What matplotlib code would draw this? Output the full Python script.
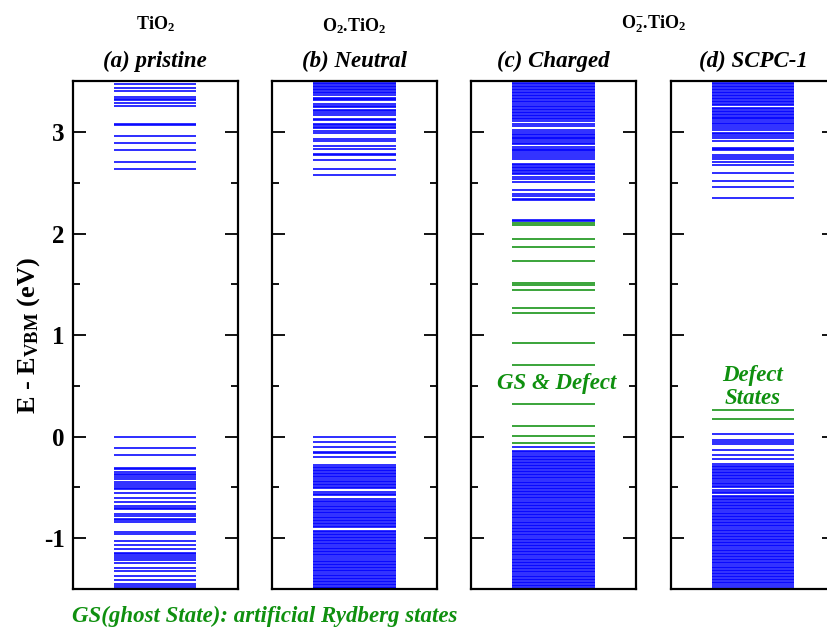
import matplotlib
matplotlib.use("Agg")
import matplotlib.pyplot as plt
from matplotlib.ticker import MultipleLocator

plt.rcParams["font.family"] = ["Liberation Serif", "DejaVu Serif"]
plt.rcParams["font.weight"] = "bold"
plt.rcParams["axes.unicode_minus"] = False
plt.rcParams["mathtext.fontset"] = "custom"
plt.rcParams["mathtext.rm"] = "Liberation Serif:bold"
plt.rcParams["mathtext.it"] = "Liberation Serif:bold:italic"
plt.rcParams["mathtext.bf"] = "Liberation Serif:bold"

BLUE = "#0000ff"
GREEN = "#0f900f"

# energy levels (eV, relative to VBM)
pristine_blue = [
    3.471, 3.429, 3.402, 3.350, 3.323, 3.314, 3.284, 3.255, 3.078, 3.072,
    2.957, 2.888, 2.819, 2.701, 2.635,
    0.0, -0.108, -0.177, -0.305, -0.321, -0.344, -0.364, -0.380, -0.400,
    -0.420, -0.443, -0.469, -0.485, -0.502, -0.518, -0.551, -0.600, -0.643,
    -0.685, -0.699, -0.715, -0.761, -0.777, -0.807, -0.823, -0.836, -0.935,
    -0.961, -1.023, -1.063, -1.102, -1.141, -1.158, -1.174, -1.191, -1.210,
    -1.246, -1.289, -1.322, -1.374, -1.414, -1.453, -1.470, -1.486,
]

neutral_blue = [
    3.487, 3.472, 3.457, 3.442, 3.427, 3.412, 3.397, 3.382, 3.367,
    3.336, 3.324, 3.311, 3.274, 3.261, 3.248, 3.222, 3.209, 3.192, 3.169,
    3.127, 3.114, 3.084, 3.071, 3.048, 3.035, 3.015, 2.992, 2.933, 2.914,
    2.864, 2.838, 2.786, 2.776, 2.727, 2.632, 2.579,
    0.0, -0.049, -0.098, -0.147, -0.161, -0.200,
    -0.280, -0.296, -0.312, -0.326, -0.341, -0.356, -0.372, -0.386, -0.401,
    -0.417, -0.432, -0.447, -0.462, -0.478, -0.493, -0.508, -0.545, -0.560,
    -0.575, -0.615, -0.630, -0.645, -0.665, -0.680, -0.695, -0.710, -0.725,
    -0.740, -0.755, -0.772, -0.787, -0.802, -0.818, -0.833, -0.848, -0.862,
    -0.878, -0.893, -0.925, -0.940, -0.955, -0.970, -0.985, -1.000, -1.015,
    -1.030, -1.046, -1.061, -1.076, -1.091, -1.106, -1.122, -1.137, -1.152,
    -1.167, -1.183, -1.205, -1.220, -1.235, -1.250, -1.266, -1.281, -1.296,
    -1.311, -1.326, -1.341, -1.357, -1.372, -1.387, -1.402, -1.418, -1.433,
    -1.448, -1.463, -1.478, -1.493,
]

charged_blue = [
    3.487, 3.472, 3.457, 3.442, 3.427, 3.412, 3.396, 3.381, 3.366, 3.351,
    3.336, 3.321, 3.306, 3.291, 3.276, 3.261, 3.246, 3.231, 3.216, 3.201,
    3.186, 3.171, 3.156, 3.141, 3.126, 3.107, 3.081, 3.058, 3.025, 2.999,
    2.984, 2.969, 2.955, 2.941, 2.927, 2.911, 2.896, 2.878, 2.852, 2.838,
    2.824, 2.810, 2.796, 2.770, 2.753, 2.730, 2.688, 2.673, 2.658, 2.643,
    2.628, 2.613, 2.598, 2.583, 2.557, 2.540, 2.511, 2.432, 2.386, 2.370,
    2.343, 2.333, 2.137, 2.121,
    -0.098, -0.140, -0.155, -0.170, -0.185, -0.200, -0.215, -0.230, -0.245,
    -0.260, -0.275, -0.290, -0.305, -0.321, -0.336, -0.350, -0.366, -0.381,
    -0.396, -0.411, -0.426, -0.441, -0.457, -0.472, -0.487, -0.502, -0.517,
    -0.532, -0.548, -0.563, -0.578, -0.593, -0.608, -0.623, -0.639, -0.654,
    -0.669, -0.684, -0.699, -0.714, -0.730, -0.745, -0.760, -0.775, -0.790,
    -0.805, -0.821, -0.836, -0.851, -0.866, -0.881, -0.896, -0.912, -0.927,
    -0.942, -0.957, -0.972, -0.987, -1.003, -1.018, -1.033, -1.048, -1.063,
    -1.078, -1.094, -1.109, -1.124, -1.139, -1.154, -1.169, -1.185, -1.200,
    -1.215, -1.230, -1.245, -1.260, -1.276, -1.291, -1.306, -1.321, -1.336,
    -1.351, -1.367, -1.382, -1.397, -1.412, -1.427, -1.442, -1.458, -1.473,
    -1.488,
]
charged_green = [
    2.104, 2.088, 1.944, 1.865, 1.731, 1.517, 1.498, 1.445, 1.265, 1.222,
    0.927, 0.705, 0.327, 0.101, 0.003, -0.066,
]

scpc_blue = [
    3.487, 3.472, 3.457, 3.442, 3.427, 3.412, 3.397, 3.382, 3.367, 3.352,
    3.337, 3.322, 3.307, 3.292, 3.277, 3.262, 3.240, 3.225, 3.210, 3.195,
    3.180, 3.165, 3.150, 3.135, 3.124, 3.107, 3.090, 3.075, 3.060, 3.041,
    3.016, 2.992, 2.978, 2.966, 2.943, 2.911, 2.845, 2.835, 2.819, 2.770,
    2.753, 2.730, 2.704, 2.671, 2.599, 2.517, 2.458, 2.353,
    0.026, -0.030, -0.049, -0.072, -0.131, -0.177, -0.220,
    -0.269, -0.284, -0.299, -0.314, -0.329, -0.344, -0.360, -0.375, -0.390,
    -0.405, -0.420, -0.436, -0.451, -0.466, -0.482, -0.498, -0.525, -0.540,
    -0.555, -0.580, -0.595, -0.610, -0.625, -0.641, -0.656, -0.671, -0.686,
    -0.701, -0.716, -0.732, -0.747, -0.762, -0.777, -0.792, -0.807, -0.823,
    -0.838, -0.853, -0.868, -0.883, -0.898, -0.914, -0.929, -0.944, -0.959,
    -0.974, -0.989, -1.005, -1.020, -1.035, -1.050, -1.065, -1.080, -1.096,
    -1.111, -1.126, -1.141, -1.156, -1.171, -1.187, -1.202, -1.217, -1.232,
    -1.247, -1.262, -1.278, -1.293, -1.308, -1.323, -1.338, -1.353, -1.369,
    -1.384, -1.399, -1.414, -1.429, -1.444, -1.460, -1.475,
]
scpc_green = [0.262, 0.174]

panel_titles = ["(a) pristine", "(b) Neutral", "(c) Charged", "(d) SCPC-1"]
panel_blue = [pristine_blue, neutral_blue, charged_blue, scpc_blue]
panel_green = [[], [], charged_green, scpc_green]

fig = plt.figure(figsize=(8.28, 6.3), dpi=100)

lefts = [0.088, 0.3285, 0.569, 0.810]
axes = []
for i, left in enumerate(lefts):
    ax = fig.add_axes([left, 0.065, 0.199, 0.806])
    ax.hlines(panel_blue[i], 0.25, 0.75, color=BLUE, lw=1.15)
    if panel_green[i]:
        ax.hlines(panel_green[i], 0.25, 0.75, color=GREEN, lw=1.15)
    ax.set_xlim(0, 1)
    ax.set_ylim(-1.5, 3.5)
    ax.set_xticks([])
    ax.yaxis.set_major_locator(MultipleLocator(1))
    ax.yaxis.set_minor_locator(MultipleLocator(0.5))
    ax.tick_params(axis="y", which="both", direction="in", left=True, right=True)
    ax.tick_params(axis="y", which="major", length=9.5, width=1.3, labelsize=18, pad=6)
    ax.tick_params(axis="y", which="minor", length=5, width=1.3)
    for sp in ax.spines.values():
        sp.set_linewidth(1.6)
    if i > 0:
        ax.set_yticklabels([])
    ax.set_title(panel_titles[i], fontsize=16.5, fontweight="bold", style="italic", pad=10)
    axes.append(ax)

axes[0].set_ylabel(r"E - E$_{\mathrm{VBM}}$ (eV)", fontsize=19, fontweight="bold", labelpad=1)

# system labels above the panels
fig.text(0.188, 0.961, r"TiO$_2$", ha="center", va="center", fontsize=13)
fig.text(0.428, 0.958, r"O$_2$.TiO$_2$", ha="center", va="center", fontsize=13)
fig.text(0.789, 0.961, r"O$_2^{-}$.TiO$_2$", ha="center", va="center", fontsize=13)

axes[2].text(0.52, 0.52, "GS & Defect", ha="center", va="center",
             fontsize=16.5, fontweight="bold", style="italic", color=GREEN)
axes[3].text(0.5, 0.49, "Defect\nStates", ha="center", va="center",
             fontsize=16.5, fontweight="bold", style="italic", color=GREEN, linespacing=1.15)

fig.text(0.087, 0.021, "GS(ghost State): artificial Rydberg states", ha="left", va="center",
         fontsize=16.5, fontweight="bold", style="italic", color=GREEN)

fig.savefig("out.png", dpi=100)
